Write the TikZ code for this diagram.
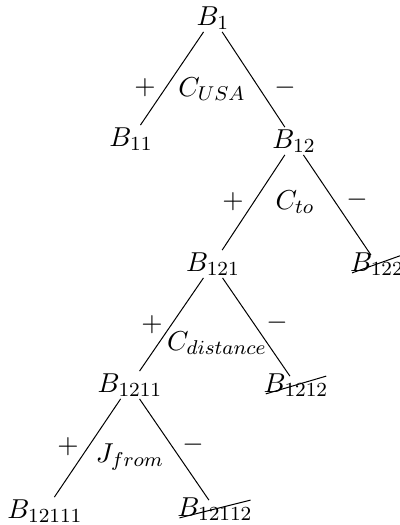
\documentclass[tikz,border=0pt]{standalone}
\usetikzlibrary{shapes.misc}
\tikzset{
  block/.style={inner sep=0.8pt,font=\fontsize{11}{13}\selectfont},
  pruned/.style={block,strike out,draw,inner xsep=-1pt,inner ysep=-1.2pt},
  test/.style={inner sep=1pt,font=\fontsize{11}{13}\selectfont},
  sign/.style={inner sep=1pt,font=\fontsize{11}{13}\selectfont},
  branch/.style={thin}
}
\begin{document}
\begin{tikzpicture}[x=0.4pt,y=-0.4pt]
      \useasboundingbox (0,0) rectangle (399,525);
      \node[block] (b1) at (213,18) {$B_1$};
      \node[block] (b11) at (131,139) {$B_{11}$};
      \node[block] (b12) at (294,141) {$B_{12}$};
      \node[block] (b121) at (213,264) {$B_{121}$};
      \node[pruned] (b122) at (377,264) {$B_{122}$};
      \node[block] (b1211) at (130,385) {$B_{1211}$};
      \node[pruned] (b1212) at (296,385) {$B_{1212}$};
      \node[block] (b12111) at (45,511) {$B_{12111}$};
      \node[pruned] (b12112) at (215,509) {$B_{12112}$};
      \draw[branch] (b1) -- (b11);
      \draw[branch] (b1) -- (b12);
      \draw[branch] (b12) -- (b121);
      \draw[branch] (b12) -- (b122);
      \draw[branch] (b121) -- (b1211);
      \draw[branch] (b121) -- (b1212);
      \draw[branch] (b1211) -- (b12111);
      \draw[branch] (b1211) -- (b12112);
      \node[test] (cusa) at (212,89) {$C_{USA}$};
      \node[sign] (pusa) at (145,88) {$+$};
      \node[sign] (musa) at (285,88) {$-$};
      \node[test] (cto) at (295,202) {$C_{to}$};
      \node[sign] (pto) at (233,202) {$+$};
      \node[sign] (mto) at (357,200) {$-$};
      \node[test] (cdist) at (217,343) {$C_{distance}$};
      \node[sign] (pdist) at (152,325) {$+$};
      \node[sign] (mdist) at (277,323) {$-$};
      \node[test] (jfrom) at (130,457) {$J_{from}$};
      \node[sign] (pfrom) at (68,447) {$+$};
      \node[sign] (mfrom) at (193,445) {$-$};
    \end{tikzpicture}
\end{document}
